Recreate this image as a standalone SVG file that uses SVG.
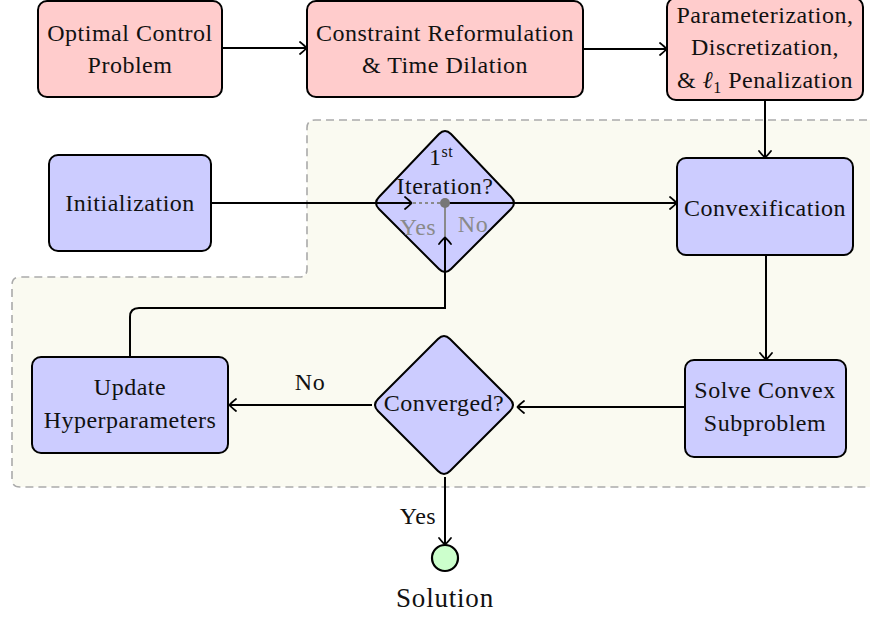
<svg xmlns="http://www.w3.org/2000/svg" width="870" height="617" viewBox="0 0 870 617">
  <style>
    .txt { font-family: "Liberation Serif", "Times New Roman", serif; font-size: 24px; fill: #111; text-anchor: middle; letter-spacing: 0.5px; }
    .big { font-size: 27px; letter-spacing: 0.8px; }
    .gray { fill: #8a8a8a; }
    .sup { font-size: 16px; }
    .red { fill: #ffcccc; stroke: #000; stroke-width: 2; }
    .blue { fill: #ccccff; stroke: #000; stroke-width: 2; }
    .green { fill: #ccffcc; stroke: #000; stroke-width: 2.2; }
    .edge { fill: none; stroke: #000; stroke-width: 2; }
    .arrow { marker-end: url(#head); }
    .region { fill: #fafaf1; stroke: #aaaaaa; stroke-width: 1.6; stroke-dasharray: 8 5; }
  </style>
  <defs>
    <marker id="head" markerUnits="userSpaceOnUse" viewBox="-8 -7 10 14" markerWidth="10" markerHeight="14" refX="0" refY="0" orient="auto" overflow="visible">
      <path d="M -6,-6 Q -1,-2 0.5,0 Q -1,2 -6,6" fill="none" stroke="#000" stroke-width="1.8" stroke-linecap="round"/>
    </marker>
  </defs>

  <!-- iteration loop background -->
  <path class="region" d="M 880,120 H 315 Q 307,120 307,128 V 269 Q 307,277 299,277 H 20 Q 12,277 12,285 V 479 Q 12,487 20,487 H 880"/>

  <!-- problem setup nodes -->
  <g id="ocp">
    <rect class="red" x="38" y="1" width="184" height="96" rx="9"/>
    <text class="txt" x="130" y="41">Optimal Control</text>
    <text class="txt" x="130" y="73">Problem</text>
  </g>
  <g id="reform">
    <rect class="red" x="307" y="1" width="276" height="96" rx="9"/>
    <text class="txt" x="445" y="41">Constraint Reformulation</text>
    <text class="txt" x="445" y="73">&amp; Time Dilation</text>
  </g>
  <g id="discretize">
    <rect class="red" x="667" y="-2" width="196" height="102" rx="9"/>
    <text class="txt" x="765" y="23">Parameterization,</text>
    <text class="txt" x="765" y="55">Discretization,</text>
    <text class="txt" x="765" y="88">&amp; <tspan font-style="italic">ℓ</tspan><tspan class="sup" dy="5">1</tspan><tspan dy="-5"> Penalization</tspan></text>
  </g>

  <!-- iteration nodes -->
  <g id="init">
    <rect class="blue" x="49" y="155" width="162" height="96" rx="9"/>
    <text class="txt" x="130" y="211">Initialization</text>
  </g>
  <g id="first-iter">
    <path class="blue" d="M 451,134 L 511,197 Q 517,203 511,209 L 451,269 Q 445,275 439,269 L 379,209 Q 373,203 379,197 L 439,134 Q 445,128 451,134 Z"/>
    <text class="txt" x="441" y="165">1<tspan class="sup" dy="-8">st</tspan></text>
    <text class="txt" x="445" y="194">Iteration?</text>
  </g>
  <g id="convexify">
    <rect class="blue" x="677" y="158" width="176" height="97" rx="9"/>
    <text class="txt" x="765" y="216">Convexification</text>
  </g>
  <g id="solve">
    <rect class="blue" x="685" y="360" width="161" height="97" rx="9"/>
    <text class="txt" x="765" y="398">Solve Convex</text>
    <text class="txt" x="765" y="431">Subproblem</text>
  </g>
  <g id="converged">
    <path class="blue" d="M 450,339 L 510,399 Q 516,405 510,411 L 450,471 Q 444,477 438,471 L 378,411 Q 372,405 378,399 L 438,339 Q 444,333 450,339 Z"/>
    <text class="txt" x="444" y="411">Converged?</text>
  </g>
  <g id="update">
    <rect class="blue" x="32" y="357" width="196" height="96" rx="9"/>
    <text class="txt" x="130" y="395">Update</text>
    <text class="txt" x="130" y="428">Hyperparameters</text>
  </g>
  <g id="solution">
    <circle class="green" cx="445" cy="558" r="13"/>
    <text class="txt big" x="445" y="607">Solution</text>
  </g>

  <!-- connectors -->
  <g id="connectors">
    <path class="edge arrow" d="M 222,48 H 306"/>
    <path class="edge arrow" d="M 583,49 H 666"/>
    <path class="edge arrow" d="M 765,100 V 157"/>
    <path class="edge arrow" d="M 211,203 H 411"/>
    <path d="M 413,203 H 441" fill="none" stroke="#8a8a8a" stroke-width="2" stroke-dasharray="3 3"/>
    <path class="edge arrow" d="M 445,203 H 676"/>
    <path d="M 445,203 V 238" fill="none" stroke="#8a8a8a" stroke-width="2"/>
    <path class="edge arrow" d="M 130,357 V 317 Q 130,308 139,308 H 445 V 238"/>
    <circle cx="445" cy="203" r="5" fill="#777"/>
    <text class="txt gray" x="418" y="235">Yes</text>
    <text class="txt gray" x="473" y="232">No</text>
    <path class="edge arrow" d="M 766,255 V 359"/>
    <path class="edge arrow" d="M 685,407 H 518"/>
    <path class="edge arrow" d="M 372,405 H 230"/>
    <text class="txt" x="310" y="390">No</text>
    <path class="edge arrow" d="M 445,477 V 544"/>
    <text class="txt" x="418" y="524">Yes</text>
  </g>
</svg>
